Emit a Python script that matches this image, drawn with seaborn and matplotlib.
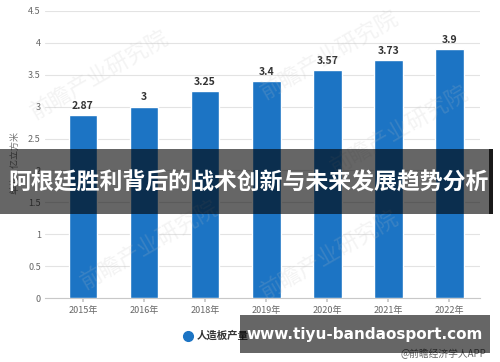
import matplotlib
matplotlib.use("Agg")
import matplotlib.pyplot as plt
import seaborn as sns
import pandas as pd
from matplotlib.patches import Rectangle
from matplotlib.ticker import FuncFormatter

years = ["2015年", "2016年", "2018年", "2019年", "2020年", "2021年", "2022年"]
values = [2.87, 3.0, 3.25, 3.4, 3.57, 3.73, 3.9]
value_labels = ["2.87", "3", "3.25", "3.4", "3.57", "3.73", "3.9"]
series_name = "人造板产量"
y_label = "单位：亿立方米"
banner_title = "阿根廷胜利背后的战术创新与未来发展趋势分析"
banner_url = "www.tiyu-bandaosport.com"
source_text = "@前瞻经济学人APP"
watermark = "前瞻产业研究院"

sns.set_theme(style="white")
plt.rcParams["font.family"] = ["Noto Sans CJK SC", "DejaVu Sans"]

W, H = 500, 362
fig = plt.figure(figsize=(5.0, 3.62), dpi=100)
ax = fig.add_axes([45 / W, 1 - 298 / H, 435 / W, 287 / H])

df = pd.DataFrame({"year": years, "value": values})
sns.barplot(data=df, x="year", y="value", color="#1c74c4", width=0.47,
            saturation=1, ax=ax, zorder=3)

ax.set_xlim(-0.62, 6.5)
ax.set_ylim(0, 4.5)
ax.set_yticks([0, 0.5, 1, 1.5, 2, 2.5, 3, 3.5, 4, 4.5])
ax.yaxis.set_major_formatter(FuncFormatter(lambda v, p: f"{v:g}"))
ax.grid(axis="y", color="#e3e3e3", linewidth=0.8, zorder=0)
ax.grid(axis="x", visible=False)
for s in ["top", "right", "left"]:
    ax.spines[s].set_visible(False)
ax.spines["bottom"].set_color("#c8c8c8")
ax.spines["bottom"].set_linewidth(0.8)
ax.tick_params(axis="y", length=0, pad=3, labelsize=6.5, labelcolor="#666666")
ax.tick_params(axis="x", length=3, color="#c8c8c8", pad=3, labelsize=6.5,
               labelcolor="#666666", bottom=True)
ax.set_xlabel("")
ax.set_ylabel("")

ax.bar_label(ax.containers[0], labels=value_labels, padding=3, fontsize=7.5,
             color="#333333", fontweight="semibold")

fig.text(15 / W, 1 - 162 / H, y_label, rotation=90, ha="center", va="center",
         fontsize=6.5, color="#777777")

# legend
fig.add_artist(plt.Line2D([188 / W], [1 - 336 / H], marker="o", markersize=7,
                          color="#1c74c4", transform=fig.transFigure))
fig.text(197 / W, 1 - 336 / H, series_name, ha="left", va="center",
         fontsize=7.5, color="#333333", fontweight="bold")

fig.text(486 / W, 1 - 354 / H, source_text, ha="right", va="center",
         fontsize=7, color="#666666")

# faint watermarks
for (x, y) in [(100, 75), (330, 55), (150, 245), (330, 255), (400, 130)]:
    fig.text(x / W, 1 - y / H, watermark, rotation=30, ha="center",
             va="center", fontsize=16, color="#c0c0c0", alpha=0.18,
             zorder=10)

# overlay banners
fig.add_artist(Rectangle((0, 1 - 214 / H), 489 / W, 65 / H,
                         transform=fig.transFigure, color="black",
                         alpha=0.6, lw=0, zorder=20))
fig.add_artist(Rectangle((489 / W, 1 - 214 / H), 4 / W, 65 / H,
                         transform=fig.transFigure, color="black",
                         alpha=0.9, lw=0, zorder=20))
fig.text(249 / W, 1 - 183 / H, banner_title, ha="center", va="center",
         fontsize=16.5, color="white", fontweight="bold", zorder=21)

fig.add_artist(Rectangle((240 / W, 1 - 353 / H), 250 / W, 38 / H,
                         transform=fig.transFigure, color="black",
                         alpha=0.6, lw=0, zorder=20))
fig.text(365 / W, 1 - 335 / H, banner_url, ha="center", va="center",
         fontsize=11, color="white", fontweight="bold",
         family=["DejaVu Sans"], zorder=21)

fig.savefig("out.png", dpi=100)
